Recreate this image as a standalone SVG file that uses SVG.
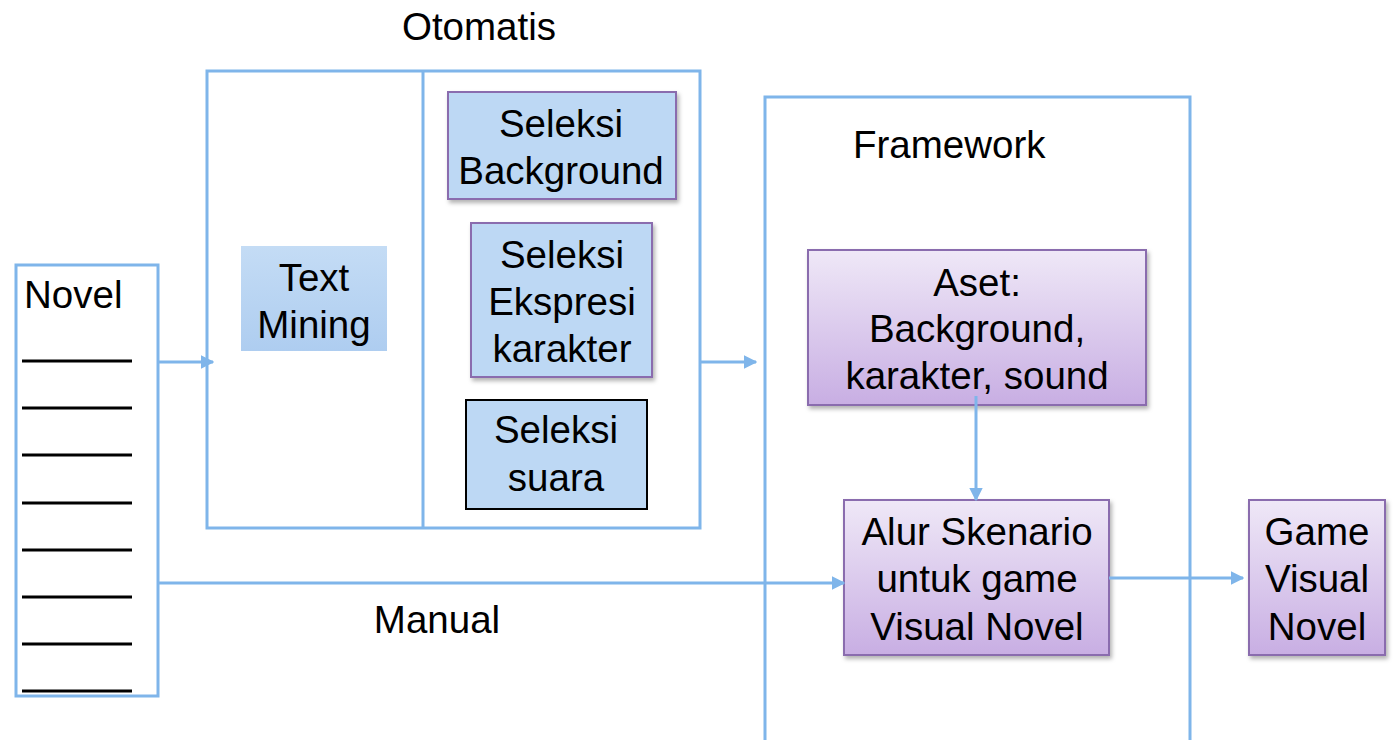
<svg xmlns="http://www.w3.org/2000/svg" width="1397" height="740" viewBox="0 0 1397 740">
  <style>
    .frame { fill: none; stroke: #7fb5ea; stroke-width: 3; }
    .conn { fill: none; stroke: #7fb5ea; stroke-width: 3; }
    .lbl { font-family: "Liberation Sans", Arial, sans-serif; font-size: 38.5px; fill: #000; }
    .mid { text-anchor: middle; }
    .blue { fill: #bdd8f4; }
    .pstroke { stroke: #8a6cae; stroke-width: 2; }
    .rule { stroke: #000; stroke-width: 3; }
  </style>
  <defs>
    <linearGradient id="purpleFill" x1="0" y1="0" x2="0" y2="1">
      <stop offset="0" stop-color="#efe8f7"/>
      <stop offset="1" stop-color="#c8aee3"/>
    </linearGradient>
    <linearGradient id="blueFill" x1="0" y1="0" x2="0" y2="1">
      <stop offset="0" stop-color="#c4dcf5"/>
      <stop offset="1" stop-color="#aecdf0"/>
    </linearGradient>
    <filter id="shadow" x="-10%" y="-10%" width="125%" height="125%">
      <feDropShadow dx="2" dy="3" stdDeviation="2" flood-color="#000" flood-opacity="0.3"/>
    </filter>
    <marker id="arrow" viewBox="0 0 10 10" refX="9" refY="5" markerWidth="4.5" markerHeight="4.5" orient="auto" markerUnits="strokeWidth">
      <path d="M0,0 L10,5 L0,10 z" fill="#7fb5ea"/>
    </marker>
  </defs>

  <!-- Novel document -->
  <g id="novel">
    <rect class="frame" x="16" y="265" width="142" height="431"/>
    <text class="lbl" x="24" y="308">Novel</text>
    <g class="rule">
      <line x1="22" y1="361" x2="132" y2="361"/>
      <line x1="22" y1="408" x2="132" y2="408"/>
      <line x1="22" y1="455" x2="132" y2="455"/>
      <line x1="22" y1="503" x2="132" y2="503"/>
      <line x1="22" y1="550" x2="132" y2="550"/>
      <line x1="22" y1="597" x2="132" y2="597"/>
      <line x1="22" y1="644" x2="132" y2="644"/>
      <line x1="22" y1="691" x2="132" y2="691"/>
    </g>
  </g>

  <!-- Automatic stage -->
  <g id="otomatis">
    <text class="lbl mid" x="479" y="40">Otomatis</text>
    <rect class="frame" x="207" y="71" width="493" height="457"/>
    <line class="frame" x1="423" y1="71" x2="423" y2="528"/>
  </g>

  <g id="text-mining">
    <rect x="241" y="246" width="146" height="105" fill="url(#blueFill)"/>
    <text class="lbl mid" x="314" y="291">Text</text>
    <text class="lbl mid" x="314" y="338">Mining</text>
  </g>

  <g id="seleksi-background">
    <rect class="blue pstroke" x="448" y="92" width="228" height="107" filter="url(#shadow)"/>
    <text class="lbl mid" x="561" y="137">Seleksi</text>
    <text class="lbl mid" x="561" y="184">Background</text>
  </g>

  <g id="seleksi-ekspresi">
    <rect class="blue pstroke" x="471" y="223" width="181" height="154" filter="url(#shadow)"/>
    <text class="lbl mid" x="562" y="268">Seleksi</text>
    <text class="lbl mid" x="562" y="315">Ekspresi</text>
    <text class="lbl mid" x="562" y="362">karakter</text>
  </g>

  <g id="seleksi-suara">
    <rect class="blue" x="466" y="400" width="181" height="109" stroke="#000" stroke-width="2"/>
    <text class="lbl mid" x="556" y="443">Seleksi</text>
    <text class="lbl mid" x="556" y="491">suara</text>
  </g>

  <!-- Framework stage -->
  <g id="framework">
    <path class="frame" d="M765,742 V97 H1190 V742"/>
    <text class="lbl" x="853" y="158">Framework</text>
  </g>

  <g id="aset">
    <rect class="pstroke" x="808" y="250" width="338" height="155" fill="url(#purpleFill)" filter="url(#shadow)"/>
    <text class="lbl mid" x="977" y="296">Aset:</text>
    <text class="lbl mid" x="977" y="342">Background,</text>
    <text class="lbl mid" x="977" y="389">karakter, sound</text>
  </g>

  <g id="alur">
    <rect class="pstroke" x="844" y="500" width="265" height="155" fill="url(#purpleFill)" filter="url(#shadow)"/>
    <text class="lbl mid" x="977" y="545">Alur Skenario</text>
    <text class="lbl mid" x="977" y="592">untuk game</text>
    <text class="lbl mid" x="977" y="640">Visual Novel</text>
  </g>

  <g id="game">
    <rect class="pstroke" x="1249" y="500" width="136" height="155" fill="url(#purpleFill)" filter="url(#shadow)"/>
    <text class="lbl mid" x="1317" y="545">Game</text>
    <text class="lbl mid" x="1317" y="592">Visual</text>
    <text class="lbl mid" x="1317" y="640">Novel</text>
  </g>

  <!-- Connectors -->
  <g id="connectors">
    <line class="conn" x1="158" y1="362" x2="213" y2="362" marker-end="url(#arrow)"/>
    <line class="conn" x1="700" y1="362" x2="756" y2="362" marker-end="url(#arrow)"/>
    <line class="conn" x1="976" y1="396" x2="976" y2="500" marker-end="url(#arrow)"/>
    <line class="conn" x1="158" y1="583" x2="844" y2="583" marker-end="url(#arrow)"/>
    <line class="conn" x1="1109" y1="578" x2="1243" y2="578" marker-end="url(#arrow)"/>
    <text class="lbl mid" x="437" y="633">Manual</text>
  </g>
</svg>
